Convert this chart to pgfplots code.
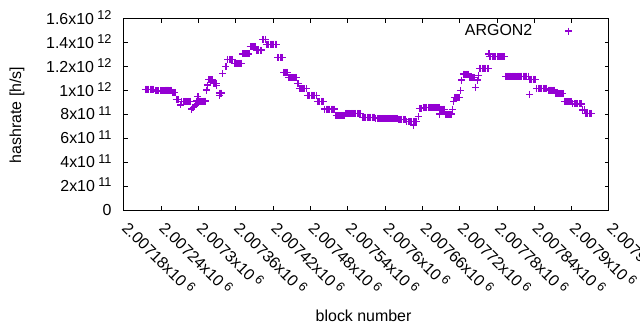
\documentclass[border=0pt]{standalone}
\usepackage{pgfplots}
\pgfplotsset{compat=1.18}
\usepackage{fontspec}
\setmainfont{Liberation Sans}
\definecolor{gpviolet}{HTML}{9400D3}
\newcommand\sups[1]{\hspace{3.3bp}\smash{\raisebox{4.7bp}{\fontsize{12.8}{12.8}\selectfont #1}}}
\pgfplotsset{argonlegend/.style={legend image code/.code={\path[draw=none] (0bp,0bp) -- (36bp,0bp); \draw[mark repeat=2, mark phase=2, ##1] plot coordinates {(0bp,0bp) (36bp,0bp) (37bp,0bp)};}}}
% x values: block number - 2007000 ; y values: hashrate in 10^12 h/s
\begin{document}
\begin{tikzpicture}
\begin{axis}[
  scale only axis, width=485bp, height=191bp,
  at={(0,0)}, anchor=south west,
  xmin=180, xmax=960, ymin=0, ymax=1.6,
  font=\fontsize{16}{19}\selectfont,
  axis line style={line width=1bp},
  every tick/.style={black, line width=1bp},
  major tick length=4bp, tick align=inside,
  xtick={180,240,300,360,420,480,540,600,660,720,780,840,900,960},
  xticklabels={2.00718x10\sups{6},2.00724x10\sups{6},2.0073x10\sups{6},2.00736x10\sups{6},2.00742x10\sups{6},2.00748x10\sups{6},2.00754x10\sups{6},2.0076x10\sups{6},2.00766x10\sups{6},2.00772x10\sups{6},2.00778x10\sups{6},2.00784x10\sups{6},2.0079x10\sups{6},2.00796x10\sups{6}},
  ytick={0,0.2,0.4,0.6,0.8,1.0,1.2,1.4,1.6},
  yticklabels={0,2x10\sups{11},4x10\sups{11},6x10\sups{11},8x10\sups{11},1x10\sups{12},1.2x10\sups{12},1.4x10\sups{12},1.6x10\sups{12}},
  xticklabel style={inner sep=0pt, anchor=base west, xshift=-3bp, yshift=-19bp, rotate=-45},
  yticklabel style={inner sep=0pt, anchor=east, xshift=-12.3bp},
  xlabel={block number}, ylabel={hashrate [h/s]},
  every axis x label/.style={at={(axis description cs:0.494,-0.554)}, anchor=center, inner sep=0pt},
  every axis y label/.style={at={(axis description cs:-0.2206,0.497)}, anchor=center, rotate=90, inner sep=0pt},
  legend plot pos=right,
  legend style={draw=none, fill=none, inner sep=0pt, outer sep=0pt, nodes={inner sep=0pt}, column sep=0pt,
    at={(axis description cs:0.7031,0.937)}, anchor=west, font=\fontsize{16}{19}\selectfont},
]
\addplot[only marks, mark=+, color=gpviolet, mark size=3.5bp, line width=1.1bp, argonlegend]
coordinates {
(214,1.013)(216,1.013)(218,1.013)(220,1.013)(222,1.013)(224,1.013)(226,1.013)(228,1.013)
(230,0.997)(232,0.997)(234,0.997)(236,0.997)(238,0.997)(240,0.997)(242,0.997)(244,0.997)
(246,1.005)(248,1.005)(250,1.005)(252,1.005)(254,1.005)(256,1.005)
(258,0.986)(260,0.986)(262,0.986)
(264,0.927)(266,0.927)(268,0.927)
(271,0.88)
(273,0.91)(275,0.91)(277,0.91)(279,0.91)(281,0.91)(283,0.91)(285,0.91)(287,0.91)
(289,0.846)(291,0.855)(293,0.865)(295,0.88)
(297,0.913)(299,0.913)(301,0.913)(303,0.913)(305,0.913)(307,0.913)(309,0.913)(311,0.913)(299,0.949)
(313,1.005)(314,1.047)(316,1.09)(318,1.09)(320,1.09)(322,1.09)(324,1.062)(326,1.062)(328,1.062)(329,1.04)
(333,0.98)(335,0.98)(337,0.98)(334,0.96)
(339,1.145)
(344,1.205)
(347,1.262)(349,1.262)(351,1.262)(353,1.262)(355,1.262)
(357,1.229)(359,1.229)(361,1.229)(363,1.229)(365,1.229)(367,1.229)(369,1.229)
(371,1.307)(373,1.307)(375,1.307)(377,1.307)(379,1.307)(381,1.307)
(383,1.368)(385,1.368)(387,1.368)(389,1.368)(391,1.368)
(393,1.34)(395,1.34)(397,1.34)(399,1.34)(401,1.34)
(403,1.43)(405,1.43)(407,1.43)
(409,1.39)(411,1.39)(413,1.39)(415,1.39)(417,1.39)(419,1.39)(421,1.39)(423,1.39)(425,1.39)
(427,1.279)(429,1.279)(431,1.279)(433,1.279)(435,1.279)
(437,1.153)(439,1.153)(441,1.153)(443,1.153)
(445,1.111)(447,1.111)(449,1.111)(451,1.111)(453,1.111)(455,1.111)(457,1.111)
(459,1.061)(461,1.061)
(463,1.016)(465,1.016)(467,1.016)(469,1.016)(471,1.016)(473,1.016)
(475,0.961)(477,0.961)(479,0.961)(481,0.961)(483,0.961)(485,0.961)(487,0.961)(489,0.961)
(491,0.91)(493,0.91)(495,0.91)(497,0.91)(499,0.91)(501,0.91)
(503,0.846)(505,0.846)(507,0.846)(509,0.846)(511,0.846)(513,0.846)(515,0.846)(517,0.846)(519,0.846)
(521,0.793)(523,0.793)(525,0.793)(527,0.793)(529,0.793)(531,0.793)(533,0.793)(535,0.793)
(537,0.81)(539,0.81)(541,0.81)(543,0.81)(545,0.81)(547,0.81)(549,0.81)(551,0.81)(553,0.81)(555,0.81)(557,0.81)(559,0.81)(561,0.81)
(563,0.777)(565,0.777)(567,0.777)(569,0.777)(571,0.777)(573,0.777)(575,0.777)(577,0.777)(579,0.777)(581,0.777)(583,0.777)
(585,0.768)(587,0.768)(589,0.768)(591,0.768)(593,0.768)(595,0.768)(597,0.768)(599,0.768)(601,0.768)(603,0.768)(605,0.768)(607,0.768)(609,0.768)(611,0.768)(613,0.768)(615,0.768)(617,0.768)(619,0.768)
(621,0.76)(623,0.76)(625,0.76)(627,0.76)(629,0.76)(631,0.76)(633,0.76)
(635,0.743)(637,0.743)(639,0.743)(641,0.743)(643,0.743)(645,0.743)(647,0.743)(649,0.743)(651,0.743)(646,0.712)(653,0.782)
(655,0.852)(657,0.852)(659,0.852)
(661,0.86)(663,0.86)(665,0.86)(667,0.86)(669,0.86)(671,0.86)(673,0.86)(675,0.86)(677,0.86)(679,0.86)(681,0.86)(683,0.86)(685,0.86)(687,0.86)
(689,0.844)(691,0.844)(693,0.844)(695,0.844)(688,0.804)
(697,0.804)(699,0.804)(701,0.804)(703,0.804)(705,0.804)(707,0.804)(708,0.844)
(710,0.907)
(712,0.944)(714,0.944)(716,0.944)(718,0.944)(720,0.944)
(721,1.0)(723,1.089)
(726,1.139)(728,1.139)(730,1.139)(732,1.139)(734,1.139)
(736,1.111)(738,1.111)(740,1.111)(742,1.111)(744,1.111)
(746,1.028)(749,1.089)(750,1.13)
(752,1.187)(754,1.187)(756,1.187)(758,1.187)(760,1.187)(762,1.187)(764,1.187)(766,1.187)
(767,1.307)(768,1.284)(770,1.284)(772,1.284)(774,1.284)(776,1.284)(778,1.284)(780,1.284)(782,1.284)(784,1.284)(786,1.284)(788,1.284)(790,1.284)(792,1.284)
(794,1.122)(796,1.122)(798,1.122)(800,1.122)(802,1.122)(804,1.122)(806,1.122)(808,1.122)(810,1.122)(812,1.122)(814,1.122)(816,1.122)(818,1.122)(820,1.122)(822,1.122)(824,1.122)(826,1.122)(828,1.122)(830,1.122)
(832,1.095)(834,1.095)(836,1.095)(838,1.095)(840,1.095)(842,1.095)(832,0.969)
(844,1.019)(846,1.019)(848,1.019)(850,1.019)(852,1.019)(854,1.019)(856,1.019)(858,1.019)(860,1.019)
(862,1.005)(864,1.005)(866,1.005)(868,1.005)(870,1.005)(872,1.005)
(874,0.977)(876,0.977)(878,0.977)(880,0.977)(882,0.977)(884,0.977)(886,0.977)
(888,0.907)(890,0.907)(892,0.907)(894,0.907)(896,0.907)(898,0.907)(900,0.907)
(902,0.888)(904,0.888)(906,0.888)(908,0.888)(910,0.888)(912,0.888)(914,0.888)(916,0.888)
(918,0.838)(920,0.838)
(922,0.81)(924,0.81)(926,0.81)(928,0.81)(930,0.81)(932,0.81)
};
\addlegendentry{ARGON2}
\end{axis}
\pgfresetboundingbox
\useasboundingbox (-124bp,-120bp) rectangle (516bp,210bp);
\end{tikzpicture}
\end{document}
